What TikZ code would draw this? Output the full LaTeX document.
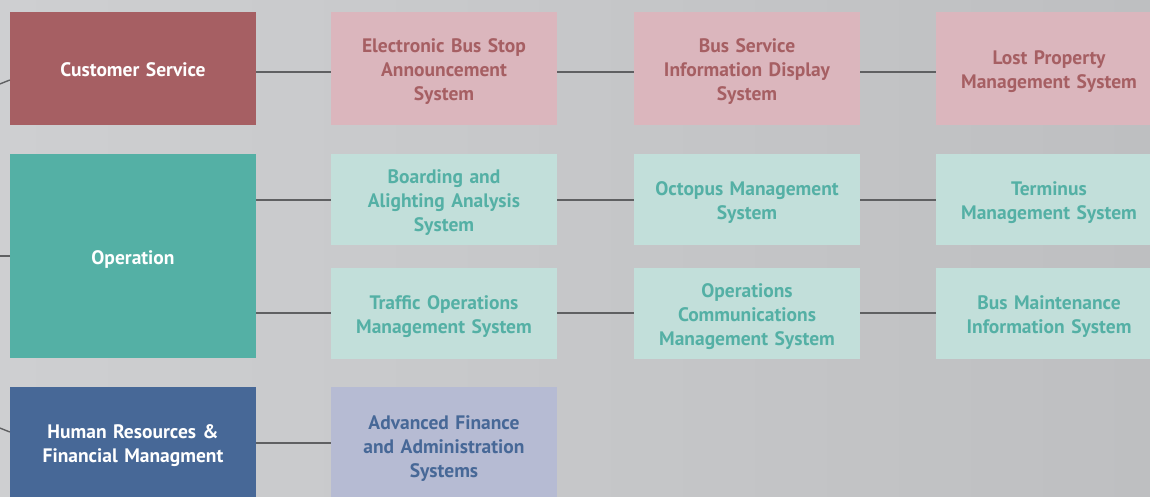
\documentclass[tikz,border=0pt]{standalone}
\usepackage{fontspec}
\setmainfont{PT Sans}
\definecolor{csdark}{HTML}{A65F63}
\definecolor{cslight}{HTML}{DBB6BD}
\definecolor{opdark}{HTML}{54B0A5}
\definecolor{oplight}{HTML}{C2DFDA}
\definecolor{hrdark}{HTML}{476897}
\definecolor{hrlight}{HTML}{B6BBD3}
\definecolor{linkgray}{HTML}{5F6062}
\definecolor{bgleft}{HTML}{CECFD1}
\definecolor{bgright}{HTML}{BEBFC1}
\begin{document}
\begin{tikzpicture}[x=1pt,y=-1pt,
  box/.style={inner sep=0pt, minimum width=226pt, text width=224pt, align=center,
    font=\bfseries\fontsize{19.5}{24}\selectfont,
    execute at begin node={\rule{0pt}{24pt}}},
  dept/.style={box, minimum width=246pt, text width=244pt, text=white},
  csbox/.style={box, fill=cslight, text=csdark, minimum height=113pt},
  opbox/.style={box, fill=oplight, text=opdark, minimum height=91pt},
  hrbox/.style={box, fill=hrlight, text=hrdark, minimum height=116pt},
  link/.style={draw=linkgray, line width=2pt},
  feed/.style={draw=linkgray, line width=1.4pt}
]
\useasboundingbox (0,0) rectangle (1150,497);
\clip (0,0) rectangle (1150,497);
\shade[left color=bgleft, right color=bgright] (0,0) rectangle (1150,497);

% departments
\node[dept, fill=csdark, minimum height=113pt] (cs) at (133,68.5) {Customer Service\strut};
\node[dept, fill=opdark, minimum height=204pt] (op) at (133,256) {Operation\strut};
\node[dept, fill=hrdark, minimum height=110pt] (hr) at (133,442) {Human Resources \&\\Financial Managment\strut};

% customer service systems
\node[csbox] (c1) at (444,68.5) {Electronic Bus Stop\\Announcement\\System\strut};
\node[csbox] (c2) at (747,68.5) {Bus Service\\Information Display\\System\strut};
\node[csbox] (c3) at (1049,68.5) {Lost Property\\Management System\strut};

% operation systems
\node[opbox] (o1) at (444,199.5) {Boarding and\\Alighting Analysis\\System\strut};
\node[opbox] (o2) at (747,199.5) {Octopus Management\\System\strut};
\node[opbox] (o3) at (1049,199.5) {Terminus\\Management System\strut};
\node[opbox] (o4) at (444,313) {Traffic Operations\\Management System\strut};
\node[opbox] (o5) at (747,313) {Operations\\Communications\\Management System\strut};
\node[opbox] (o6) at (1049,313) {Bus Maintenance\\Information System\strut};

% finance systems
\node[hrbox] (h1) at (444,445) {Advanced Finance\\and Administration\\Systems\strut};

% links along each row
\draw[link] ([yshift=-3.5pt]cs.east) -- ([yshift=-3.5pt]c1.west);
\draw[link] ([yshift=-3.5pt]c1.east) -- ([yshift=-3.5pt]c2.west);
\draw[link] ([yshift=-3.5pt]c2.east) -- ([yshift=-3.5pt]c3.west);
\draw[link] (op.east |- o1.west) -- (o1.west);
\draw[link] (o1.east) -- (o2.west);
\draw[link] (o2.east) -- (o3.west);
\draw[link] (op.east |- o4.west) -- (o4.west);
\draw[link] (o4.east) -- (o5.west);
\draw[link] (o5.east) -- (o6.west);
\draw[link] ([yshift=-1pt]hr.east) -- ([yshift=2pt]h1.west);

% feeds from the parent hub
\coordinate (hub) at (-430,256);
\draw[feed] (hub) -- ([yshift=-11.5pt]cs.west);
\draw[link] (hub) -- (op.west);
\draw[feed] (hub) -- ([yshift=10pt]hr.west);
\end{tikzpicture}
\end{document}
